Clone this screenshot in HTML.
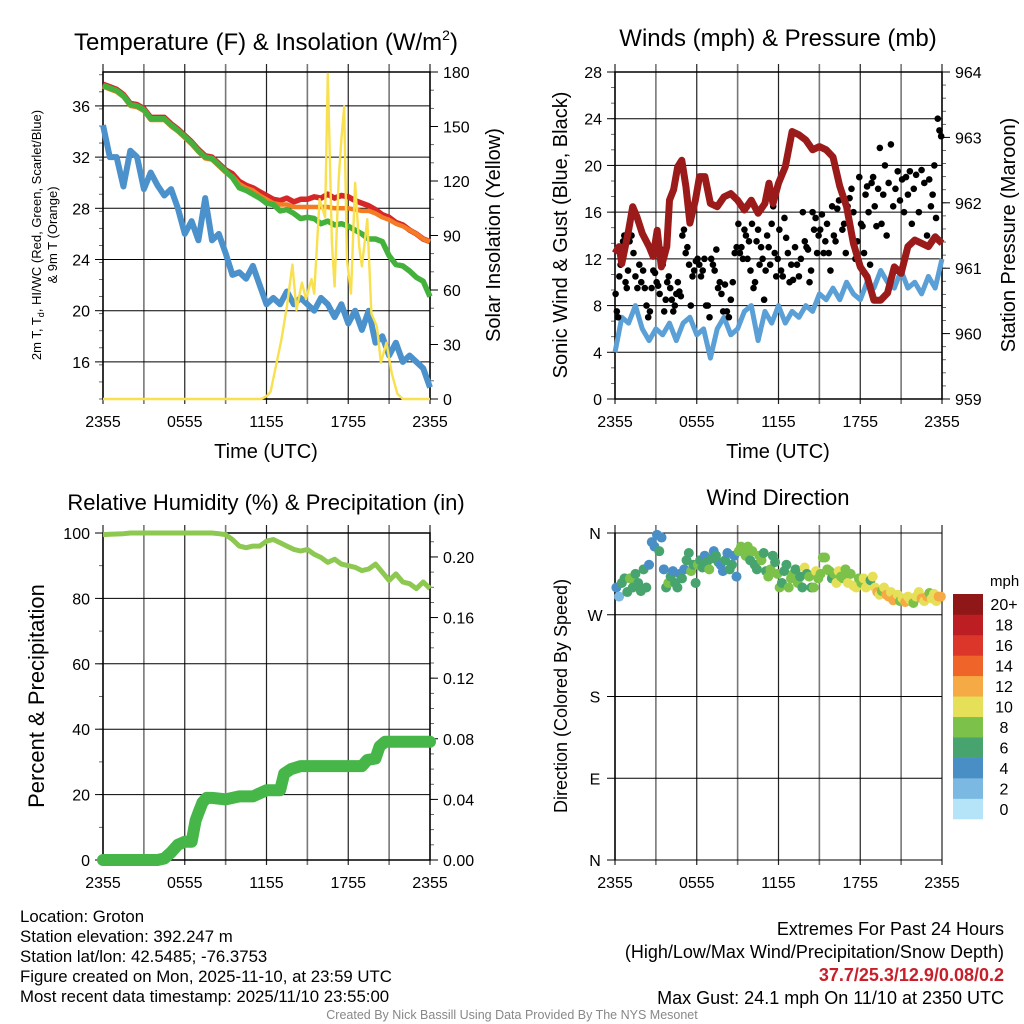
<!DOCTYPE html>
<html><head><meta charset="utf-8">
<style>
html,body{margin:0;padding:0;background:#fff;}
svg{display:block;font-family:"Liberation Sans",Arial,sans-serif;}
</style></head>
<body>
<svg id="chart" width="1024" height="1024" viewBox="0 0 1024 1024" xmlns="http://www.w3.org/2000/svg">
<rect width="1024" height="1024" fill="#fff"/>
<g id="layer"></g>
<text x="266" y="50" font-size="24" text-anchor="middle">Temperature (F) &amp; Insolation (W/m<tspan font-size="14" dy="-10">2</tspan><tspan dy="10">)</tspan></text>
<text x="778" y="46" font-size="24" text-anchor="middle">Winds (mph) &amp; Pressure (mb)</text>
<text x="266" y="510" font-size="22" text-anchor="middle">Relative Humidity (%) &amp; Precipitation (in)</text>
<text x="778" y="505" font-size="22" text-anchor="middle">Wind Direction</text>

<text transform="translate(41,235) rotate(-90)" font-size="13" text-anchor="middle">2m T, T<tspan font-size="9" dy="3">d</tspan><tspan dy="-3">, HI/WC (Red, Green, Scarlet/Blue)</tspan></text>
<text transform="translate(57,235) rotate(-90)" font-size="13" text-anchor="middle">&amp; 9m T (Orange)</text>
<text transform="translate(500,235) rotate(-90)" font-size="20" text-anchor="middle">Solar Insolation (Yellow)</text>
<text transform="translate(567,235) rotate(-90)" font-size="20" text-anchor="middle">Sonic Wind &amp; Gust (Blue, Black)</text>
<text transform="translate(1015,235) rotate(-90)" font-size="20" text-anchor="middle">Station Pressure (Maroon)</text>
<text transform="translate(44,696) rotate(-90)" font-size="22" text-anchor="middle">Percent &amp; Precipitation</text>
<text transform="translate(567,696) rotate(-90)" font-size="18" text-anchor="middle">Direction (Colored By Speed)</text>
<text x="266" y="458" font-size="20" text-anchor="middle">Time (UTC)</text>
<text x="778" y="458" font-size="20" text-anchor="middle">Time (UTC)</text>

<g font-size="16.8">
<text x="20" y="922">Location: Groton</text>
<text x="20" y="942">Station elevation: 392.247 m</text>
<text x="20" y="962">Station lat/lon: 42.5485; -76.3753</text>
<text x="20" y="982">Figure created on Mon, 2025-11-10, at 23:59 UTC</text>
<text x="20" y="1002">Most recent data timestamp: 2025/11/10 23:55:00</text>
</g>
<g font-size="18" text-anchor="end">
<text x="1004" y="935">Extremes For Past 24 Hours</text>
<text x="1004" y="958">(High/Low/Max Wind/Precipitation/Snow Depth)</text>
<text x="1004" y="981" fill="#c8202a" font-weight="bold">37.7/25.3/12.9/0.08/0.2</text>
<text x="1004" y="1004">Max Gust: 24.1 mph On 11/10 at 2350 UTC</text>
</g>
<text x="512" y="1019" font-size="12.5" fill="#888" text-anchor="middle">Created By Nick Bassill Using Data Provided By The NYS Mesonet</text>
</svg>
<script>
// ---- data ----
const halfHours = [0,0.5,1,1.5,2,2.5,3,3.5,4,4.5,5,5.5,6,6.5,7,7.5,8,8.5,9,9.5,10,10.5,11,11.5,12,12.5,13,13.5,14,14.5,15,15.5,16,16.5,17,17.5,18,18.5,19,19.5,20,20.5,21,21.5,22,22.5,23,23.5,24];
const tempRed = [37.7,37.5,37.3,36.9,36.2,36.1,35.8,35.1,35.1,35.1,34.6,34.2,33.7,33.2,32.6,32.1,32.0,31.5,31.0,30.7,30.1,29.8,29.6,29.3,29.0,28.7,28.6,28.8,28.5,28.7,28.7,28.9,28.8,29.1,28.8,29.0,28.9,28.6,28.4,28.2,27.9,27.5,27.3,26.9,26.7,26.3,26.0,25.6,25.4];
const tempOrange = [37.5,37.3,37.1,36.7,36.0,35.9,35.6,34.9,34.9,34.9,34.4,34.0,33.5,33.0,32.4,31.9,31.8,31.3,30.8,30.5,29.9,29.6,29.4,29.0,28.7,28.4,28.3,28.3,28.1,28.1,28.1,28.1,28.1,28.1,28.0,28.0,28.0,27.9,27.8,27.8,27.6,27.3,27.1,26.8,26.6,26.3,26.0,25.6,25.4];
const tempGreen = [37.6,37.4,37.2,36.8,36.1,36.0,35.7,35.0,35.0,35.0,34.5,34.1,33.6,33.1,32.5,32.0,31.9,31.4,30.9,30.4,29.6,29.4,29.1,28.8,28.4,28.3,27.8,27.9,27.6,27.2,27.3,27.2,26.8,27.0,26.7,26.8,26.6,26.3,26.0,25.6,25.6,25.4,24.3,23.6,23.5,23.1,22.6,22.3,21.1];
const dewBlue = [34.5,32.0,32.0,29.7,32.5,32.0,29.5,30.8,29.8,29.0,29.5,28.0,26.0,27.0,25.5,28.8,25.5,26.0,24.5,22.8,23.0,22.5,23.5,22.0,20.5,21.0,20.5,21.5,20.5,21.0,20.5,20.0,21.0,20.5,19.5,20.5,19.0,20.0,18.5,20.0,17.5,18.0,16.5,17.5,16.0,16.5,16.0,15.5,14.0];
const solarT = [0,11.6,12.0,12.3,13.1,13.5,13.9,14.2,14.6,14.9,15.3,15.5,15.9,16.3,16.5,16.8,17.0,17.3,17.5,17.7,17.9,18.2,18.5,18.8,19.0,19.4,19.7,20.1,20.4,20.8,21.2,21.6,22.0,24];
const solarV = [0,0,1.5,4,33,51,74,49,64,55,66,58,110,100,179,86,62,121,143,161,77,58,119,84,73,99,47,40,20,31,14,3,0,0];
const windBlue = [4,7,6.5,8,6,5,6,5.5,6.5,5,6.5,7,5.5,6,3.5,6,7,5.5,6,7.5,8,5,7.5,6.5,8,6.5,7.5,7,8,7.5,9,8.5,9.5,8.5,10,9,8.5,10,9.5,11,10,9.5,11,9.5,10,9,10.5,9.5,12];
const pressT = [0,0.3,0.5,1,1.3,1.6,2,2.5,2.8,3.1,3.4,3.8,4,4.3,4.6,4.9,5.2,5.5,5.9,6.2,6.6,7,7.5,8,8.5,9,9.5,10,10.5,11,11.3,11.6,12,12.5,13,13.5,14,14.5,15,15.5,16,16.5,17,17.5,18,18.5,19,19.5,20,20.5,21,21.5,22,22.5,23,23.5,24];
const pressV = [961.23,961.33,961.07,961.58,961.94,961.79,961.53,961.33,961.18,961.58,961.02,961.33,962.04,962.2,962.55,962.65,962.25,961.69,962.04,962.4,962.4,961.99,961.94,962.09,962.14,962.04,961.89,962.04,961.84,961.99,962.3,961.99,962.3,962.55,963.09,963.04,962.96,962.81,962.86,962.81,962.7,962.25,961.94,961.38,961.02,960.87,960.51,960.51,960.62,961.02,960.92,961.33,961.43,961.38,961.33,961.48,961.38];
const gustByHour = [
 [9,7.5,7,10.5,11.5,12,13.5,14,10,9.5,11],[13.5,14,12.5,10.5,9.5,11.5,10],[11,9.5,8,7,7.5,9.5,11,10.8],
 [10,9.7,9,12.8,11.5,7.5,8.5,10,10.5],[9.5,8.5,7.5,8,9,10,9.2,8.8,14],[14.5,12.5,13,11.5,8,10.5,11,11.8],
 [12,11.5,10.5,11,12,8,8,7],[12,11.5,11,12.8,9.5,10,9,7.5],[9.8,7.5,7,8.5,10,12.5,13],
 [15,12.5,13,12,14.5,14,12,13.5,11],[15,9.5,10,13.5,14.5,11.5,13,12,8.5],[11,14,13,11.5,15,16.5,12.5,10.5,12],
 [14.5,11,10.5,15.5,13.8,12.5,10,11.5],[10.2,13,11.5,10.5,12,16,13.5],[13,12.8,10,11,16,14.5,15.5,12.5,14],
 [14.5,15.8,12.5,13.5,15,12.5,11,16.5],[14,13.5,16.3,17,18,14.5,15,12.5],[16.5,17.2,18,16,12,13.5,19],
 [15,14.8,12.5,17.5,18.2,16,11.5,18.5,19],[16.5,14.8,18,21.5,15,17.5,20,14],[18.5,21.8,16.5,18,19.5,17],
 [18.8,16,19,17.5,19.5,15,18],[19.2,16,19.6,18.5,14],[18.8,16.5,17.5,20,15.5,24,23,22.5]];
const rhV = [99.5,99.6,99.7,99.8,100,100,100,100,100,100,100,100,100,100,100,100,100,99.8,99.5,98,96,95.5,96,96,97.5,98,97,96,95,94.5,95,93.5,92.5,91,92,90.5,90,89.5,88.5,89,90.5,88,85.5,87.5,85,84.5,83,85,83];
const precipT = [0,4,4.5,5,5.5,6,6.5,6.8,7,7.3,7.6,8,9,10,11,11.5,12,13,13.3,13.8,14.5,19,19.4,20,20.3,20.7,24];
const precipV = [0,0,0.001,0.005,0.010,0.012,0.012,0.026,0.031,0.038,0.041,0.041,0.040,0.042,0.042,0.044,0.046,0.046,0.057,0.060,0.062,0.062,0.066,0.067,0.075,0.078,0.078];
const dirByHour = [
 [[300,4],[290,3],[305,6],[310,6],[295,6]],[[310,8],[300,6],[315,6],[305,6],[296,6]],[[320,6],[300,6],[325,4],[350,4],[345,4]],
 [[358,4],[340,6],[355,4],[320,4],[300,6],[305,8]],[[312,6],[318,4],[305,6],[300,6],[315,4],[310,6]],[[320,4],[330,6],[338,6],[318,8],[325,6],[305,6]],
 [[325,8],[330,6],[322,6],[335,4],[328,6],[320,8]],[[332,6],[340,4],[335,6],[328,6],[325,4],[318,4]],[[330,6],[338,4],[320,6],[325,6],[335,4],[312,4]],
 [[340,8],[345,8],[340,8],[335,8],[345,8],[330,6]],[[340,8],[325,6],[320,6],[335,8],[330,8],[338,6]],[[318,6],[312,8],[320,8],[335,6],[328,6],[315,8]],
 [[300,8],[305,6],[318,6],[325,6],[300,8],[310,8]],[[315,8],[320,6],[305,8],[312,6],[300,6],[322,10]],[[315,6],[312,8],[300,6],[300,8],[318,10],[310,8]],
 [[315,8],[333,8],[333,8],[320,8],[318,8],[310,6]],[[315,8],[305,10],[318,10],[312,8],[310,8],[320,8]],[[305,10],[315,8],[302,10],[300,10],[310,8]],
 [[305,8],[310,10],[300,10],[303,10],[308,6],[312,10]],[[300,10],[295,12],[292,10],[296,8],[300,10],[292,12]],[[290,12],[295,10],[286,12],[288,12],[292,10],[285,8]],
 [[288,10],[284,12],[290,10],[286,10],[283,8]],[[290,10],[295,10],[288,12],[285,10],[290,12]],[[294,8],[288,10],[293,10],[285,10],[290,12],[290,12]]];
const xTickLabels = ["2355","0555","1155","1755","2355"];
const speedBinLabels = ["0","2","4","6","8","10","12","14","16","18","20+"];
const speedColors = ["#b5e4f8","#7bb9e3","#4a8ec6","#48a46e","#7cc24a","#e6e058","#f6aa45","#ef6429","#dc3529","#bd1e24","#8f1718"];

// ---- helpers ----
const NS="http://www.w3.org/2000/svg";
const layer=document.getElementById('layer');
function mk(tag,attrs,parent){const e=document.createElementNS(NS,tag);for(const k in attrs)e.setAttribute(k,attrs[k]);(parent||layer).appendChild(e);return e;}
function lin(d0,d1,r0,r1){return v=>r0+(v-d0)*(r1-r0)/(d1-d0);}
function pathOf(xs,ys,fx,fy){return xs.map((t,i)=>(i?'L':'M')+fx(t).toFixed(1)+' '+fy(ys[i]).toFixed(1)).join(' ');}

function frame(x0,x1,y0,y1,name){
  const g=mk('g',{});
  
  
  const fx=lin(0,24,x0,x1);
  for(let h=0;h<=24;h+=3){
    const x=fx(h);
    mk('line',{x1:x,x2:x,y1:y0-8,y2:y1+5,stroke:(h%6===0?'#222':'#777'),'stroke-width':(h%6===0?1.2:1.6)},g);
  }
  for(let i=0;i<5;i++){
    const lab=mk('text',{x:fx(i*6),y:y1+28,'font-size':16,'text-anchor':'middle'},g);
    
    
    lab.textContent=xTickLabels[i];
  }
  return {g,fx};
}
function yAxis(g,side,x,y0,y1,d0,d1,majors,fmt,minorStep,name){
  const fy=lin(d0,d1,y1,y0);
  const dir=side==='left'?-1:1;
  for(let v=d0;v<=d1+1e-9;v+=minorStep){
    const y=fy(v); if(y<y0-0.5)continue;
    mk('line',{x1:x,x2:x+dir*4,y1:y,y2:y,stroke:'#444','stroke-width':0.8},g);
  }
  majors.forEach(v=>{
    const y=fy(v);
    mk('line',{x1:x,x2:x+dir*8,y1:y,y2:y,stroke:'#000','stroke-width':1},g);
    const t=mk('text',{x:x+dir*13,y:y+6,'font-size':16,'text-anchor':side==='left'?'end':'start'},g);
    
    
    t.textContent=fmt(v);
  });
  return fy;
}
function hgrid(g,x0,x1,ys){ys.forEach(y=>mk('line',{x1:x0,x2:x1,y1:y,y2:y,stroke:'#000','stroke-width':1},g));}
function border(g,x0,x1,y0,y1){mk('rect',{x:x0,y:y0,width:x1-x0,height:y1-y0,fill:'none',stroke:'#000','stroke-width':1.5},g);}

// ---- panel 1: temperature ----
(function(){
  const x0=103,x1=430,y0=72,y1=399;
  const {g,fx}=frame(x0,x1,y0,y1,'temp');
  const fy=yAxis(g,'left',x0,y0,y1,13.1,38.65,[16,20,24,28,32,36],v=>v,4/3,'temp-y');
  const fs=yAxis(g,'right',x1,y0,y1,0,180,[0,30,60,90,120,150,180],v=>v,10,'solar-y');
  hgrid(g,x0,x1,[16,20,24,28,32,36].map(fy));
  border(g,x0,x1,y0,y1);
  const s=mk('g',{});
  
  
  let p;
  p=mk('path',{d:pathOf(halfHours,dewBlue,fx,fy),fill:'none',stroke:'#4b91cc','stroke-width':6,'stroke-linejoin':'round'},s);
   
  p=mk('path',{d:pathOf(halfHours,tempRed,fx,fy),fill:'none',stroke:'#d62728','stroke-width':5.5,'stroke-linejoin':'round'},s);
   
  p=mk('path',{d:pathOf(halfHours,tempOrange,fx,fy),fill:'none',stroke:'#f47c24','stroke-width':4.5,'stroke-linejoin':'round'},s);
   
  p=mk('path',{d:pathOf(halfHours,tempGreen,fx,fy),fill:'none',stroke:'#44b13c','stroke-width':5.5,'stroke-linejoin':'round'},s);
   
  p=mk('path',{d:pathOf(solarT,solarV,fx,fs),fill:'none',stroke:'#f8e04e','stroke-width':2.4,'stroke-linejoin':'round'},s);
   
})();

// ---- panel 2: wind & pressure ----
(function(){
  const x0=615,x1=942,y0=72,y1=399;
  const {g,fx}=frame(x0,x1,y0,y1,'wind');
  const fy=yAxis(g,'left',x0,y0,y1,0,28,[0,4,8,12,16,20,24,28],v=>v,4/3,'wind-y');
  const fp=yAxis(g,'right',x1,y0,y1,959,964,[959,960,961,962,963,964],v=>v,0.2,'pressure-y');
  hgrid(g,x0,x1,[4,8,12,16,20,24].map(fy));
  border(g,x0,x1,y0,y1);
  const s=mk('g',{});
  
  
  let p=mk('path',{d:pathOf(halfHours,windBlue,fx,fy),fill:'none',stroke:'#5a9fd6','stroke-width':5,'stroke-linejoin':'round'},s);
   
  gustByHour.forEach((arr,h)=>{
    arr.forEach((v,i)=>{
      const c=mk('circle',{cx:fx(h+(i+0.5)/arr.length),cy:fy(v),r:3.3,fill:'#000'},s);
      
      
    });
  });
  p=mk('path',{d:pathOf(pressT,pressV,fx,fp),fill:'none',stroke:'#9b1a1a','stroke-width':7,'stroke-linejoin':'round'},s);
   
})();

// ---- panel 3: RH & precip ----
(function(){
  const x0=103,x1=430,y0=533,y1=860;
  const {g,fx}=frame(x0,x1,y0,y1,'rh');
  const fy=yAxis(g,'left',x0,y0,y1,0,100,[0,20,40,60,80,100],v=>v,10,'rh-y');
  const fp=yAxis(g,'right',x1,y0,y1,0,0.2158,[0,0.04,0.08,0.12,0.16,0.20],v=>v.toFixed(2),0.01,'precip-y');
  hgrid(g,x0,x1,[20,40,60,80].map(fy));
  border(g,x0,x1,y0,y1);
  const s=mk('g',{});
  
  
  let p=mk('path',{d:pathOf(halfHours,rhV,fx,fy),fill:'none',stroke:'#8dc850','stroke-width':5,'stroke-linejoin':'round'},s);
   
  p=mk('path',{d:pathOf(precipT,precipV,fx,fp),fill:'none',stroke:'#46b649','stroke-width':12,'stroke-linejoin':'round','stroke-linecap':'round'},s);
   
})();

// ---- panel 4: direction ----
(function(){
  const x0=615,x1=942,y0=533,y1=860;
  const {g,fx}=frame(x0,x1,y0,y1,'dir');
  const fy=lin(360,0,y0,y1);
  const dirs=[[360,'N'],[270,'W'],[180,'S'],[90,'E'],[0,'N']];
  dirs.forEach(([d,l])=>{
    const y=fy(d);
    mk('line',{x1:x0-8,x2:x1,y1:y,y2:y,stroke:'#000','stroke-width':1},g);
    const t=mk('text',{x:x0-20,y:y+6,'font-size':16,'text-anchor':'middle'},g);
    
    
    t.textContent=l;
  });
  mk('line',{x1:x0,x2:x0,y1:y0,y2:y1,stroke:'#000','stroke-width':1.5},g);
  const s=mk('g',{});
  
  
  dirByHour.forEach((arr,h)=>{
    arr.forEach(([d,sp],i)=>{
      const bin=Math.min(10,Math.floor(sp/2));
      const c=mk('circle',{cx:fx(h+(i+0.5)/arr.length),cy:fy(d),r:5,fill:speedColors[bin]},s);
      
      
    });
  });
  // legend
  const lg=mk('g',{});
  
  
  const t=mk('text',{x:990,y:586,'font-size':15},lg); t.textContent='mph';
  const ly0=594,ly1=819,bh=(ly1-ly0)/11;
  speedBinLabels.forEach((lab,i)=>{
    const yy=ly1-(i+1)*bh;
    const r=mk('rect',{x:953,y:yy,width:30,height:bh+0.3,fill:speedColors[i]},lg);
    
    
    const tx=mk('text',{x:1004,y:yy+bh/2+6,'font-size':16,'text-anchor':'middle'},lg);
    
    
    tx.textContent=lab;
  });
})();
</script>
</body></html>
